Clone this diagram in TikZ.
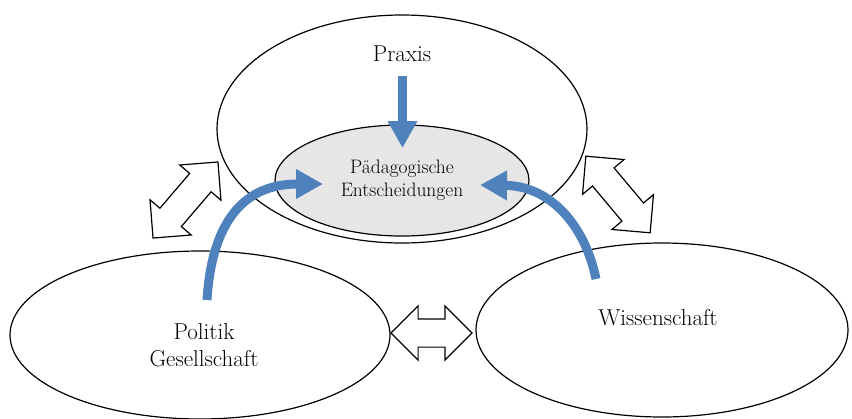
\documentclass[tikz,border=0pt]{standalone}
\usetikzlibrary{shapes.geometric,shapes.arrows,arrows.meta}
\definecolor{myblue}{RGB}{79,129,189}
\definecolor{mygray}{RGB}{230,230,230}

\begin{document}
\begin{tikzpicture}[x=1pt,y=-1pt,
    bubble/.style={draw,ellipse,line width=1.2pt,inner sep=0pt},
    bubbletext/.style={anchor=base,align=center,font=\fontsize{23}{27}\selectfont},
    flow/.style={draw=myblue,line width=9pt,-{Triangle[length=27pt,width=28pt]}},
    swap/.style={double arrow,draw,fill=white,line width=1.2pt,inner xsep=0pt,inner ysep=13.5pt,
        double arrow head extend=13pt,double arrow head indent=0pt}]
    \useasboundingbox (0,0) rectangle (852,418);
    \node[bubble,fill=white,minimum width=370pt,minimum height=228pt] (praxisbox) at (402,129) {};
    \node[bubble,fill=mygray,minimum width=254pt,minimum height=111pt,align=center,
        font=\fontsize{19.5}{23}\selectfont] (decision) at (402,180.5) {Pädagogische\\Entscheidungen};
    \node[bubble,minimum width=380pt,minimum height=168pt] (politikbox) at (200,335) {};
    \node[bubble,minimum width=372pt,minimum height=174pt] (wissbox) at (662,330) {};
    \node[bubbletext] (praxis) at (402,61) {Praxis};
    \node[bubbletext,anchor=north] (politik) at (204,320) {Politik\\Gesellschaft};
    \node[bubbletext] (wiss) at (658,325) {Wissenschaft};
    % exchange between the fields
    \node[swap,minimum height=100pt,rotate=49.5] (leftswap) at (185.5,200) {};
    \node[swap,minimum height=100pt,rotate=-50] (rightswap) at (618,194.5) {};
    \node[swap,minimum height=81pt] (midswap) at (431.5,333) {};
    % influences on the decisions
    \coordinate (praxis-out) at (402.5,76);
    \coordinate (praxis-in) at (402.5,148);
    \coordinate (politik-out) at (207,300);
    \coordinate (politik-in) at (323,184);
    \coordinate (wiss-out) at (596,279);
    \coordinate (wiss-in) at (480,185);
    \draw[flow] (praxis-out) -- (praxis-in);
    \draw[flow] (politik-out) .. controls (212,220) and (245,184) .. (politik-in);
    \draw[flow] (wiss-out) .. controls (585,225) and (550,186) .. (wiss-in);
\end{tikzpicture}
\end{document}
